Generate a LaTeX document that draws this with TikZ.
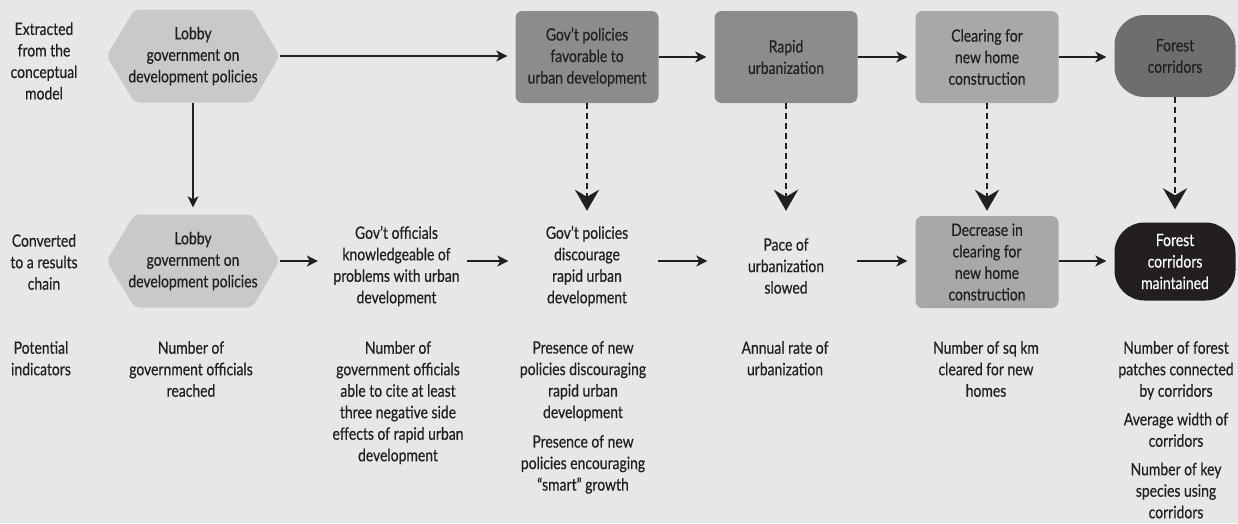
\documentclass[tikz,border=0pt]{standalone}
\usepackage{fontspec}
\setmainfont{Lato}[FakeStretch=0.82,FakeBold=0.4]
\usetikzlibrary{arrows.meta,calc}
\definecolor{bg}{HTML}{E6E7E8}
\definecolor{ink}{HTML}{231F20}
\definecolor{hexc}{HTML}{C8C9CA}
\definecolor{midc}{HTML}{8B8C8E}
\definecolor{litc}{HTML}{A7A8AA}
\definecolor{darkc}{HTML}{6D6E70}
\begin{document}
\begin{tikzpicture}[x=1pt,y=-1pt,
  txt/.style={font=\fontsize{17}{21.5}\selectfont, align=center, text=ink},
  hexnode/.style={txt, minimum width=173pt, minimum height=93pt, inner sep=0pt,
    path picture={\fill[hexc, rounded corners=5pt]
      (path picture bounding box.west)
      -- ($(path picture bounding box.north west)+(28,0)$)
      -- ($(path picture bounding box.north east)+(-27,0)$)
      -- (path picture bounding box.east)
      -- ($(path picture bounding box.south east)+(-27,0)$)
      -- ($(path picture bounding box.south west)+(28,0)$) -- cycle;}},
  boxnode/.style={txt, rounded corners=7pt, minimum width=143pt, minimum height=92pt, inner sep=2pt},
  blobnode/.style={txt, rounded corners=30pt, minimum width=121pt, minimum height=82pt, inner sep=0pt},
  plainnode/.style={txt, minimum width=141pt, minimum height=92pt, inner sep=0pt},
  indnode/.style={txt, anchor=north, inner sep=0pt},
  arr/.style={draw=ink, line width=1.5pt, -{Stealth[length=11pt,width=11pt,inset=3pt]}, shorten >=8pt},
  darr/.style={draw=ink, line width=2.6pt, dash pattern=on 6pt off 4pt, -{Stealth[length=21pt,width=24pt,inset=7pt]}}
]
\fill[bg] (0,0) rectangle (1238,523);
\useasboundingbox (0,0) rectangle (1238,523);

% row labels
\node[txt] (lblA) at (44,61) {Extracted\\from the\\conceptual\\model};
\node[txt] (lblB) at (44,262) {Converted\\to a results\\chain};
\node[indnode] (lblC) at (41,341) {Potential\\indicators};

% top row
\node[hexnode] (lob1) at (193,56) {Lobby\\government on\\development policies};
\node[boxnode, fill=midc] (gov1) at (587,57) {Gov’t policies\\favorable to\\urban development};
\node[boxnode, fill=midc] (rap1) at (786,57) {Rapid\\urbanization};
\node[boxnode, fill=litc] (clr1) at (987,57) {Clearing for\\new home\\construction};
\node[blobnode, fill=darkc] (for1) at (1175,56) {Forest\\corridors};

% bottom row
\node[hexnode] (lob2) at (193,261) {Lobby\\government on\\development policies};
\node[plainnode] (off2) at (396.5,266) {Gov’t officials\\knowledgeable of\\problems with urban\\development};
\node[plainnode] (pol2) at (587,266) {Gov’t policies\\discourage\\rapid urban\\development};
\node[plainnode] (pac2) at (786,266) {Pace of\\urbanization\\slowed};
\node[boxnode, fill=litc] (dec2) at (987,262) {Decrease in\\clearing for\\new home\\construction};
\node[blobnode, fill=ink, text=white, minimum height=78pt] (for2) at (1175,261.5) {Forest\\corridors\\maintained};

% indicators
\node[indnode] (ind1) at (191,341) {Number of\\government officials\\reached};
\node[indnode] (ind2) at (398,341) {Number of\\government officials\\able to cite at least\\three negative side\\effects of rapid urban\\development};
\node[indnode] (ind3) at (583,341) {Presence of new\\policies discouraging\\rapid urban\\development\\[8pt]Presence of new\\policies encouraging\\“smart” growth};
\node[indnode] (ind4) at (785,341) {Annual rate of\\urbanization};
\node[indnode] (ind5) at (986,341) {Number of sq km\\cleared for new\\homes};
\node[indnode] (ind6) at (1176,341) {Number of forest\\patches connected\\by corridors\\[7pt]Average width of\\corridors\\[7pt]Number of key\\species using\\corridors};

% top arrows
\draw[arr] (lob1.east) -- (lob1.east -| gov1.west);
\draw[arr] (gov1.east) -- (gov1.east -| rap1.west);
\draw[arr] (rap1.east) -- (rap1.east -| clr1.west);
\draw[arr] (clr1.east) -- (clr1.east -| for1.west);
% vertical
\draw[arr, shorten >=7pt] (lob1.south) -- (lob2.north);
\draw[darr, shorten >=5pt] (gov1.south) -- (gov1.south |- dec2.north);
\draw[darr, shorten >=5pt] (rap1.south) -- (rap1.south |- dec2.north);
\draw[darr, shorten >=5pt] (clr1.south) -- (dec2.north);
\draw[darr, shorten >=13pt] (for1.south) -- (for1.south |- for2.north);
% bottom arrows
\draw[arr] (lob2.east) -- (lob2.east -| off2.west);
\draw[arr] (off2.east |- lob2.east) -- (pol2.west |- lob2.east);
\draw[arr] (pol2.east |- lob2.east) -- (pac2.west |- lob2.east);
\draw[arr] (pac2.east |- lob2.east) -- (dec2.west |- lob2.east);
\draw[arr] (dec2.east |- lob2.east) -- (for2.west |- lob2.east);
\end{tikzpicture}
\end{document}
